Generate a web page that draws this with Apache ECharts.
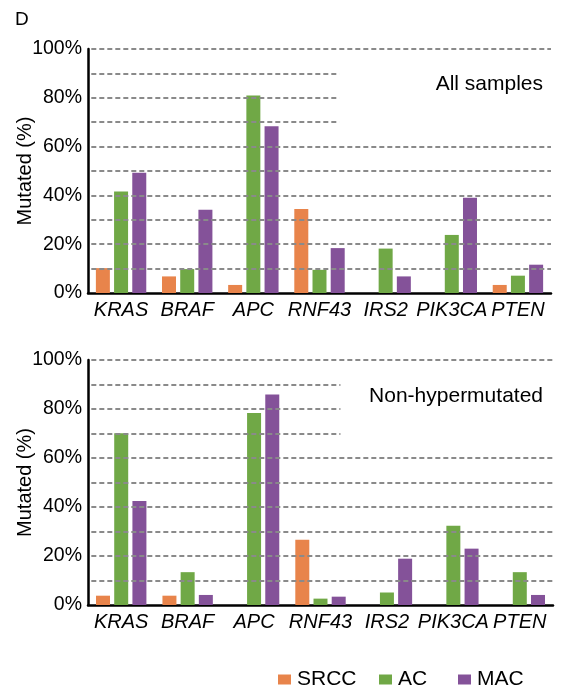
<!DOCTYPE html>
<html>
<head>
<meta charset="utf-8">
<script src="https://cdn.jsdelivr.net/npm/echarts@6/dist/echarts.min.js"></script>
<style>html,body{margin:0;padding:0;background:#fff;}#c{width:568px;height:688px;}</style>
</head>
<body>
<div id="c"></div>
<script>
const genes = ['KRAS', 'BRAF', 'APC', 'RNF43', 'IRS2', 'PIK3CA', 'PTEN'];
const seriesNames = ['SRCC', 'AC', 'MAC'];
const yTicks = [0, 20, 40, 60, 80, 100];
// All samples
const allSRCC = [10.2, 6.8, 3.3, 34.4, 0, 0, 3.3];
const allAC   = [41.6, 9.8, 80.9, 9.5, 18.2, 23.8, 7.1];
const allMAC  = [49.3, 34.1, 68.3, 18.4, 6.8, 39.0, 11.6];
// Non-hypermutated
const nhSRCC = [3.8, 3.8, 0, 26.6, 0, 0, 0];
const nhAC   = [70.1, 13.4, 78.4, 2.6, 5.1, 32.3, 13.4];
const nhMAC  = [42.5, 4.1, 85.9, 3.4, 18.9, 23.0, 4.1];
const panelTitles = ['All samples', 'Non-hypermutated'];

const colors = ['#E8844B', '#70A846', '#845299'];
const FONT = '"Liberation Sans", Arial, sans-serif';

const grids = [
  {left: 88, right: 17, top: 49, height: 244, containLabel: false, outerBoundsMode: 'none'},
  {left: 88, right: 15, top: 360, height: 245, containLabel: false, outerBoundsMode: 'none'}
];

function gridLines(shortEnd) {
  const d = [];
  for (let v = 10; v <= 100; v += 10) {
    const end = (v >= 70 && v <= 90) ? shortEnd : genes.length;
    d.push([{coord: [0.05, v]}, {coord: [end, v]}]);
  }
  return d;
}

const xAxes = [], yAxes = [], series = [];
[[allSRCC, allAC, allMAC], [nhSRCC, nhAC, nhMAC]].forEach((vals, gi) => {
  xAxes.push({
    type: 'category', gridIndex: gi, data: genes,
    axisLine: {lineStyle: {color: '#000', width: 2.5}},
    axisTick: {show: false},
    axisLabel: {color: '#000', fontFamily: FONT, fontSize: 20, fontStyle: 'italic', margin: 7, interval: 0}
  });
  xAxes.push({type: 'value', gridIndex: gi, min: 0, max: genes.length, show: false});
  yAxes.push({
    type: 'value', gridIndex: gi, min: 0, max: 100, interval: 20,
    name: 'Mutated (%)', nameLocation: 'middle', nameGap: 53, nameRotate: 90,
    nameMoveOverlap: false,
    nameTextStyle: {color: '#000', fontFamily: FONT, fontSize: 20},
    axisLine: {show: true, lineStyle: {color: '#000', width: 2.5}},
    axisTick: {show: false},
    splitLine: {show: false},
    axisLabel: {color: '#000', fontFamily: FONT, fontSize: 19.5, margin: 6,
      formatter: v => yTicks.includes(v) ? v + '%' : ''}
  });
  series.push({
    type: 'line', xAxisIndex: gi * 2 + 1, yAxisIndex: gi, data: [], z: 1,
    markLine: {
      silent: true, symbol: ['none', 'none'], label: {show: false},
      lineStyle: {color: '#8a8a8a', width: 2, type: [5, 3]},
      emphasis: {disabled: true},
      data: gridLines(3.8)
    }
  });
  vals.forEach((arr, si) => {
    series.push({
      name: seriesNames[si], type: 'bar', xAxisIndex: gi * 2, yAxisIndex: gi,
      data: arr, barWidth: 14, barGap: '30%', z: 3,
      itemStyle: {color: colors[si]}
    });
  });
});

const chart = echarts.init(document.getElementById('c'), null, {renderer: 'canvas'});
chart.setOption({
  animation: false,
  backgroundColor: '#fff',
  title: [
    {text: 'D', left: 15, top: 10, padding: 0, textStyle: {fontFamily: FONT, fontSize: 19, fontWeight: 'normal', color: '#000'}},
    {text: panelTitles[0], right: 25, top: 74, padding: 0, textStyle: {fontFamily: FONT, fontSize: 21, fontWeight: 'normal', color: '#000'}},
    {text: panelTitles[1], right: 25, top: 386, padding: 0, textStyle: {fontFamily: FONT, fontSize: 21, fontWeight: 'normal', color: '#000'}}
  ],
  legend: seriesNames.map((n, i) => ({
    data: [n], left: [278, 379, 458][i], top: 669, padding: 0,
    itemWidth: 13, itemHeight: 10, itemGap: 0, icon: 'rect',
    textStyle: {fontFamily: FONT, fontSize: 21, color: '#000', padding: [0, 0, 0, 1]}
  })),
  grid: grids,
  xAxis: xAxes,
  yAxis: yAxes,
  series: series
});
</script>
</body>
</html>
